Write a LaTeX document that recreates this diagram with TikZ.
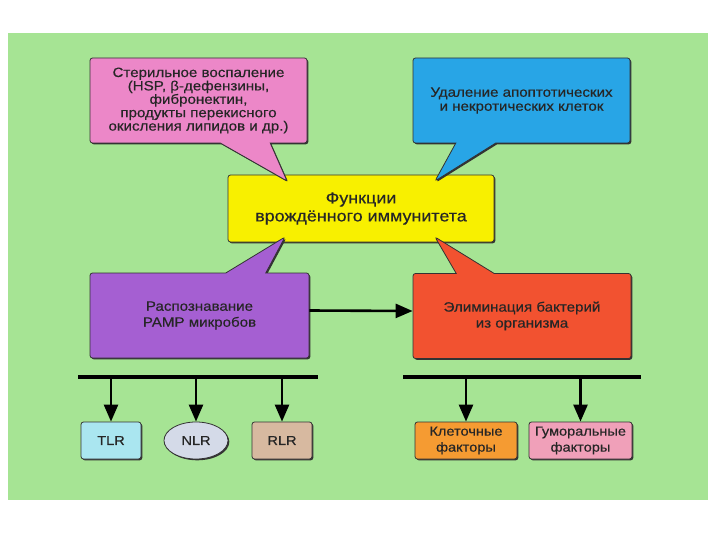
\documentclass[tikz,border=0pt]{standalone}
\usepackage{fontspec}
\setmainfont{Liberation Sans}[FakeStretch=1.12,FakeBold=0.4]
\usetikzlibrary{shapes.callouts,shapes.geometric,shadows,arrows.meta}

\definecolor{bggreen}{RGB}{166,228,148}
\definecolor{pinkc}{RGB}{236,135,200}
\definecolor{bluec}{RGB}{40,165,230}
\definecolor{yellowc}{RGB}{248,240,0}
\definecolor{purplec}{RGB}{165,95,210}
\definecolor{redc}{RGB}{242,82,48}
\definecolor{tlrc}{RGB}{170,230,240}
\definecolor{nlrc}{RGB}{212,218,232}
\definecolor{rlrc}{RGB}{215,185,160}
\definecolor{cellc}{RGB}{245,155,50}
\definecolor{humc}{RGB}{240,160,185}

\begin{document}
\begin{tikzpicture}[x=1pt,y=-1pt,>={Triangle[length=17pt,width=14pt]},
  every node/.style={text=black!85,align=center,inner sep=0pt},
  frame/.style={draw=black!80,line width=0.8pt,rounded corners=2.5pt,
    drop shadow={shadow xshift=1.3pt,shadow yshift=-1.3pt,fill=black!80,opacity=1}},
  talk/.style={frame,rectangle callout,minimum width=217pt,minimum height=85pt},
  small/.style={frame,minimum height=37pt,font=\fontsize{13}{16}\selectfont},
  bar/.style={line width=4pt},
  arr/.style={->,line width=2.6pt}]

\useasboundingbox (0,0) rectangle (720,540);
\fill[bggreen] (8,33) rectangle (708,500);

\node[frame,fill=yellowc,minimum width=266pt,minimum height=67pt,
  font=\fontsize{16}{18}\selectfont] (func) at (361,208.5)
  {Функции\\врождённого иммунитета};

\coordinate (pinkTip) at (287,181);
\coordinate (blueTip) at (435,181);
\coordinate (purpTip) at (285,237);
\coordinate (redTip) at (435,237);

\node[talk,fill=pinkc,callout absolute pointer=(pinkTip),callout pointer width=50pt,
  font=\fontsize{13.5}{13.4}\selectfont] (steril) at (198.5,100.5)
  {Стерильное воспаление\\(HSP, β-дефензины,\\фибронектин,\\продукты перекисного\\окисления липидов и др.)};

\node[talk,fill=bluec,callout absolute pointer=(blueTip),callout pointer width=40pt,
  font=\fontsize{13.5}{14}\selectfont] (apopt) at (521.5,100.5)
  {Удаление апоптотических\\и некротических клеток};

\node[talk,fill=purplec,minimum width=219pt,callout absolute pointer=(purpTip),
  callout pointer width=40pt,font=\fontsize{13.5}{16}\selectfont] (pamp) at (199.5,315.5)
  {Распознавание\\PAMP микробов};

\node[talk,fill=redc,minimum width=218pt,callout absolute pointer=(redTip),
  callout pointer width=38pt,font=\fontsize{13.5}{16}\selectfont] (elim) at (522,316)
  {Элиминация бактерий\\из организма};

\draw[arr] ([yshift=5pt]pamp.east) -- ([yshift=5pt]elim.west);

% receptors
\coordinate (lbarL) at (78,377);
\coordinate (lbarR) at (318,377);
\draw[bar] (lbarL) -- (lbarR);

\node[small,fill=tlrc,minimum width=60pt] (tlr) at (111,440.5) {TLR};
\node[small,ellipse,fill=nlrc,minimum width=64pt] (nlr) at (196,440.5) {NLR};
\node[small,fill=rlrc,minimum width=60pt] (rlr) at (282,440.5) {RLR};

\foreach \n in {tlr,nlr,rlr}
  \draw[arr] (\n.north |- lbarL) -- (\n.north);

% factors
\coordinate (rbarL) at (403,377);
\coordinate (rbarR) at (641,377);
\draw[bar] (rbarL) -- (rbarR);

\node[small,fill=cellc,minimum width=102pt] (cell) at (466,440.5) {Клеточные\\факторы};
\node[small,fill=humc,minimum width=103pt] (hum) at (580.5,440.5) {Гуморальные\\факторы};

\foreach \n in {cell,hum}
  \draw[arr] (\n.north |- rbarL) -- (\n.north);

\end{tikzpicture}
\end{document}
